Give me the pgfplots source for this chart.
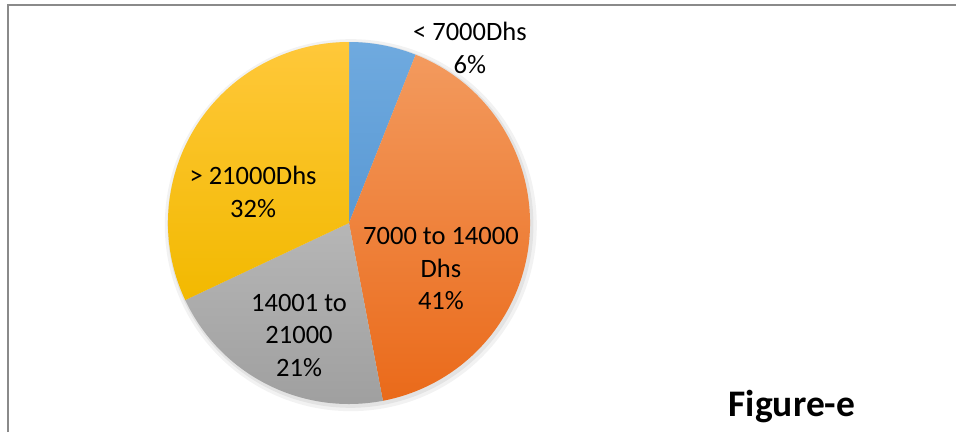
\documentclass[border=0pt]{standalone}
\usepackage{fontspec}
\setmainfont{Carlito}
\usepackage{pgfplots}
\usepackage{pgfplotstable}
\pgfplotsset{compat=1.18}
\definecolor{blueT}{HTML}{6FAADF}
\definecolor{blueB}{HTML}{5A99D4}
\definecolor{orangeT}{HTML}{F39A5E}
\definecolor{orangeB}{HTML}{EA6A1A}
\definecolor{grayT}{HTML}{B6B6B6}
\definecolor{grayB}{HTML}{9E9E9E}
\definecolor{yellowT}{HTML}{FFC83A}
\definecolor{yellowB}{HTML}{F2B900}
\definecolor{framegray}{HTML}{8A8A8A}

\pgfplotstableread{
idx value
0 6
1 41
2 21
3 32
}\piedata

\newcommand{\lbl}{\fontsize{26.5}{32.5}\selectfont}

\begin{document}
\begin{tikzpicture}
\pgfplotstablegetelem{0}{value}\of\piedata \pgfmathsetmacro{\vA}{\pgfplotsretval}
\pgfplotstablegetelem{1}{value}\of\piedata \pgfmathsetmacro{\vB}{\pgfplotsretval}
\pgfplotstablegetelem{2}{value}\of\piedata \pgfmathsetmacro{\vC}{\pgfplotsretval}
\pgfplotstablegetelem{3}{value}\of\piedata \pgfmathsetmacro{\vD}{\pgfplotsretval}
\pgfmathsetmacro{\aA}{90}
\pgfmathsetmacro{\aB}{\aA-3.6*\vA}
\pgfmathsetmacro{\aC}{\aB-3.6*\vB}
\pgfmathsetmacro{\aD}{\aC-3.6*\vC}
\pgfmathsetmacro{\aE}{\aD-3.6*\vD}
\useasboundingbox (0pt,0pt) rectangle (956pt,432pt);
\fill[white] (0pt,0pt) rectangle (956pt,432pt);
\draw[line width=2.5pt, color=framegray] (8pt,0pt) -- (8pt,427pt) -- (960pt,427pt);
\begin{axis}[at={(349pt,209pt)}, anchor=center, hide axis, scale only axis,
  width=362pt, height=362pt, xmin=-1, xmax=1, ymin=-1, ymax=1, clip=false]
\fill[black, opacity=0.05] (axis cs:0.01,-0.012) circle[radius=186pt];
\fill[black, opacity=0.06] (axis cs:0.008,-0.01) circle[radius=183pt];
\path[top color=blueT, bottom color=blueB] (axis cs:0,0) -- (axis cs:{cos(\aA)},{sin(\aA)}) arc[start angle=\aA, end angle=\aB, radius=181pt] -- cycle;
\path[top color=orangeT, bottom color=orangeB] (axis cs:0,0) -- (axis cs:{cos(\aB)},{sin(\aB)}) arc[start angle=\aB, end angle=\aC, radius=181pt] -- cycle;
\path[top color=grayT, bottom color=grayB] (axis cs:0,0) -- (axis cs:{cos(\aC)},{sin(\aC)}) arc[start angle=\aC, end angle=\aD, radius=181pt] -- cycle;
\path[top color=yellowT, bottom color=yellowB] (axis cs:0,0) -- (axis cs:{cos(\aD)},{sin(\aD)}) arc[start angle=\aD, end angle=\aE, radius=181pt] -- cycle;
\node[align=center, inner sep=0pt, font=\lbl] at (axis cs:0.668,0.967) {< 7000Dhs\\6\%};
\node[align=center, inner sep=0pt, font=\lbl] at (axis cs:0.508,-0.254) {7000 to 14000\\Dhs\\41\%};
\node[align=center, inner sep=0pt, font=\lbl] at (axis cs:-0.276,-0.619) {14001 to\\21000\\21\%};
\node[align=center, inner sep=0pt, font=\lbl] at (axis cs:-0.530,0.172) {> 21000Dhs\\32\%};
\end{axis}
\node[inner sep=0pt, font=\bfseries\fontsize{37.5}{40}\selectfont] at (792pt,25pt) {Figure-e};
\end{tikzpicture}
\end{document}
